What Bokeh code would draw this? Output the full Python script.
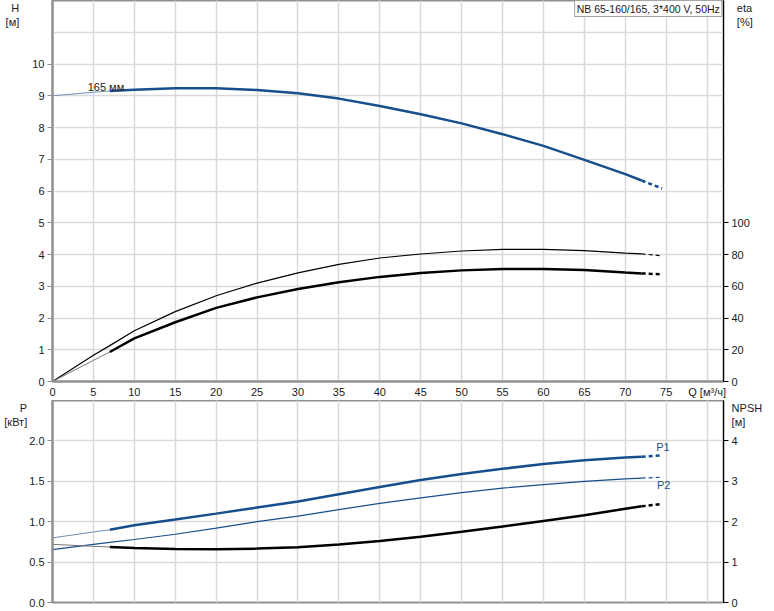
from bokeh.plotting import figure
from bokeh.models import Range1d, LinearAxis, FixedTicker, Label, Grid, NumeralTickFormatter
from bokeh.layouts import column
from bokeh.embed import file_html
from bokeh.resources import INLINE

# ---------------- data ----------------
Q = [0, 5, 7, 10, 15, 20, 25, 30, 35, 40, 45, 50, 55, 60, 65, 70, 72, 74.5]
H_165 = [9.00, 9.11, 9.15, 9.19, 9.24, 9.24, 9.18, 9.08, 8.91, 8.68, 8.42, 8.13,
         7.79, 7.42, 6.98, 6.53, 6.33, 6.08]
ETA_PUMP = [0, 16.5, 22.6, 32.0, 44.0, 54.0, 62.0, 68.4, 73.8, 77.8, 80.3, 82.2,
            83.2, 83.2, 82.4, 80.9, 80.4, 79.2]
ETA_TOTAL = [0, 13.3, 18.6, 27.2, 37.3, 46.4, 53.0, 58.3, 62.5, 65.9, 68.4, 70.0,
             70.9, 70.9, 70.3, 68.7, 68.1, 67.5]
P1 = [0.80, 0.873, 0.90, 0.957, 1.027, 1.10, 1.176, 1.25, 1.34, 1.43, 1.515, 1.59,
      1.655, 1.715, 1.76, 1.795, 1.805, 1.82]
P2 = [0.655, 0.72, 0.745, 0.78, 0.845, 0.92, 1.00, 1.07, 1.15, 1.226, 1.295, 1.36,
      1.415, 1.46, 1.50, 1.53, 1.54, 1.55]
NPSH = [1.44, 1.39, 1.375, 1.35, 1.325, 1.316, 1.334, 1.366, 1.434, 1.524, 1.63, 1.75,
        1.88, 2.02, 2.16, 2.32, 2.38, 2.44]

Q_TICKS = list(range(0, 85, 5))
H_TICKS = list(range(0, 11))
ETA_TICKS = [0, 20, 40, 60, 80, 100]
P_TICKS = [0.0, 0.5, 1.0, 1.5, 2.0]
NPSH_TICKS = [0, 1, 2, 3, 4]

Q_THIN_END = 7      # thin start segment of the working curves
Q_SOLID_END = 72    # solid part ends, dashed part beyond

TITLE = "NB 65-160/165, 3*400 V, 50Hz"
CURVE_LABEL = "165 мм"

# ---------------- style ----------------
FONT = "Liberation Sans"
BLUE = "#174f8c"
BLUE_LIGHT = "#6f8fb5"
GRID = "#d9d9d9"
AXG = "#8f8f8f"
TXT = "#1a1a1a"
FS = "11px"


def part(xs, ys, lo, hi):
    px, py = [], []
    for a, b in zip(xs, ys):
        if lo <= a <= hi:
            px.append(a)
            py.append(b)
    return px, py


def draw(p, ys, color, width, thin_start, y_range_name="default", thin_color=None):
    kw = {}
    if y_range_name != "default":
        kw["y_range_name"] = y_range_name
    if thin_start:
        x, y = part(Q, ys, 0, Q_THIN_END)
        p.line(x, y, line_color=thin_color or color, line_width=1, **kw)
        x, y = part(Q, ys, Q_THIN_END, Q_SOLID_END)
    else:
        x, y = part(Q, ys, 0, Q_SOLID_END)
    p.line(x, y, line_color=color, line_width=width, **kw)
    x, y = part(Q, ys, Q_SOLID_END, 100)
    p.line(x, y, line_color=color, line_width=width, line_dash="4 3", **kw)


def style_axis(ax, color, label=None, standoff=5):
    ax.axis_line_color = color
    ax.axis_line_width = 2 if color == AXG else 1
    ax.major_tick_line_color = color
    ax.major_tick_out = 5
    ax.major_tick_in = 0
    ax.minor_tick_line_color = None
    ax.major_label_text_font = FONT
    ax.major_label_text_font_size = FS
    ax.major_label_text_color = TXT
    ax.major_label_standoff = 3
    if label is not None:
        # two blank lines push the two-line unit label below the frame's top edge
        ax.axis_label = "\n\n" + label
        ax.axis_label_orientation = "horizontal"
        ax.axis_label_text_font = FONT
        ax.axis_label_text_font_size = FS
        ax.axis_label_text_font_style = "normal"
        ax.axis_label_text_color = TXT
        ax.axis_label_standoff = standoff
        try:
            ax.axis_label_text_align = "center"
        except Exception:
            pass
        try:
            ax.axis_label_align = "end"
        except Exception:
            pass


def txt(p, x, y, text, align="center", baseline="top", color=TXT, size=FS, **kw):
    p.add_layout(Label(x=x, y=y, text=text, text_align=align, text_baseline=baseline,
                       text_font=FONT, text_font_size=size, text_color=color, **kw))


FW = 671
# ---------------- top chart ----------------
p1 = figure(frame_width=FW, frame_height=381, min_border_left=52, min_border_right=49,
            min_border_top=0, min_border_bottom=19,
            x_range=Range1d(0, 82), y_range=Range1d(0, 12),
            x_axis_location=None, y_axis_location=None,
            output_backend="svg", toolbar_location=None)
p1.outline_line_color = AXG
p1.outline_line_width = 2
p1.extra_y_ranges = {"eta": Range1d(0, 240)}

p1.add_layout(Grid(dimension=0, ticker=FixedTicker(ticks=Q_TICKS), grid_line_color=GRID, grid_line_width=1.5))
p1.add_layout(Grid(dimension=1, ticker=FixedTicker(ticks=list(range(0, 13))), grid_line_color=GRID, grid_line_width=1.5))

xa = LinearAxis(ticker=FixedTicker(ticks=Q_TICKS), major_label_overrides={80: "Q [м³/ч]"})
style_axis(xa, AXG)
xa.major_tick_out = 0
xa.major_label_standoff = 4
p1.add_layout(xa, "below")

ya = LinearAxis(ticker=FixedTicker(ticks=H_TICKS))
style_axis(ya, AXG, label="H\n[м]", standoff=10)
p1.add_layout(ya, "left")

ea = LinearAxis(y_range_name="eta", ticker=FixedTicker(ticks=ETA_TICKS))
style_axis(ea, "black", label="eta\n[%]", standoff=-16)
p1.add_layout(ea, "right")

draw(p1, H_165, BLUE, 2.5, True, thin_color=BLUE_LIGHT)
draw(p1, ETA_PUMP, "black", 1.2, False, y_range_name="eta")
draw(p1, ETA_TOTAL, "black", 2.5, True, y_range_name="eta", thin_color="#777777")

txt(p1, 4.3, 9.28, CURVE_LABEL, align="left", baseline="middle", color="#222222")
txt(p1, 81.8, 12, TITLE, align="right", baseline="top", border_line_color="#a0a0a0",
    background_fill_color="white", padding=2, size="10.5px")

# ---------------- bottom chart ----------------
p2 = figure(frame_width=FW, frame_height=202, min_border_left=52, min_border_right=49,
            min_border_top=0, min_border_bottom=7,
            x_range=p1.x_range, y_range=Range1d(0, 2.5),
            x_axis_location=None, y_axis_location=None,
            output_backend="svg", toolbar_location=None)
p2.outline_line_color = AXG
p2.outline_line_width = 2
p2.extra_y_ranges = {"npsh": Range1d(0, 5)}

p2.add_layout(Grid(dimension=0, ticker=FixedTicker(ticks=Q_TICKS), grid_line_color=GRID, grid_line_width=1.5))
p2.add_layout(Grid(dimension=1, ticker=FixedTicker(ticks=[0, 0.5, 1.0, 1.5, 2.0, 2.5]), grid_line_color=GRID, grid_line_width=1.5))

pa = LinearAxis(ticker=FixedTicker(ticks=P_TICKS), formatter=NumeralTickFormatter(format="0.0"))
style_axis(pa, AXG, label="P\n[кВт]", standoff=-1)
p2.add_layout(pa, "left")

na = LinearAxis(y_range_name="npsh", ticker=FixedTicker(ticks=NPSH_TICKS))
style_axis(na, "black", label="NPSH\n[м]", standoff=-9)
p2.add_layout(na, "right")

draw(p2, P1, BLUE, 2.5, True, thin_color=BLUE_LIGHT)
draw(p2, P2, BLUE, 1.2, False)
draw(p2, NPSH, "black", 2.5, True, y_range_name="npsh", thin_color="#777777")

txt(p2, 74.6, 1.93, "P1", align="center", baseline="middle", color=BLUE)
txt(p2, 74.7, 1.45, "P2", align="center", baseline="middle", color=BLUE)

layout = column(p1, p2, spacing=0)
open("out.html", "w").write(file_html(layout, INLINE))
